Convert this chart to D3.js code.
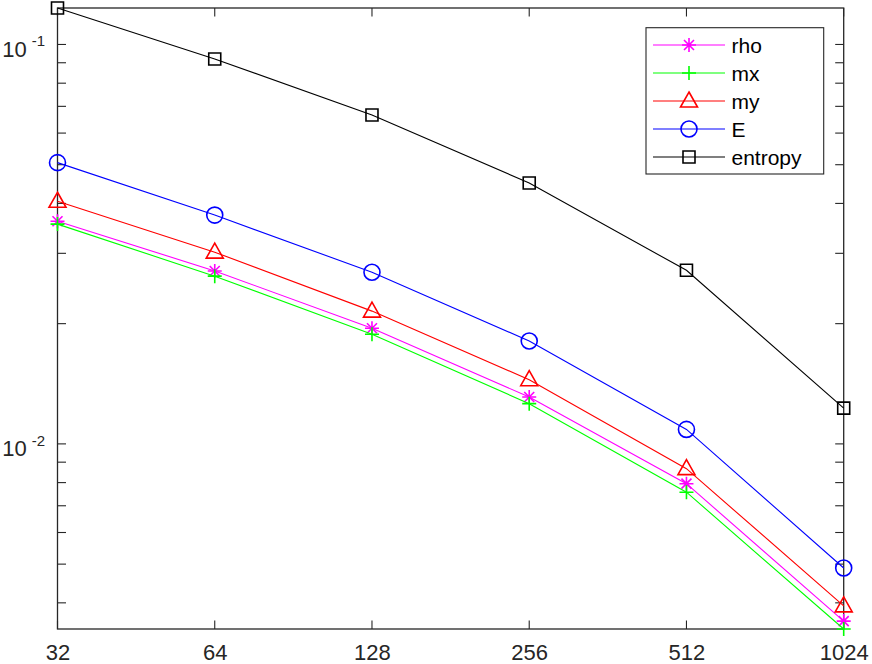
<!DOCTYPE html>
<html>
<head>
<meta charset="utf-8">
<script src="https://cdn.jsdelivr.net/npm/d3@7"></script>
<style>
  body { margin: 0; background: #fff; }
  svg { display: block; font-family: "Liberation Sans", Arial, sans-serif; }
</style>
</head>
<body>
<svg id="chart" width="872" height="664"></svg>
<script>
// grid sizes on the x axis
var gridSizes = [32, 64, 128, 256, 512, 1024];

// error per variable
var rho     = [0.0361, 0.0271, 0.01948, 0.01310, 0.00795, 0.00360];
var mx      = [0.0355, 0.0263, 0.01881, 0.01261, 0.00757, 0.00344];
var my      = [0.0405, 0.0302, 0.0215,  0.01448, 0.00867, 0.00393];
var E       = [0.0506, 0.0374, 0.0269,  0.01810, 0.01087, 0.00489];
var entropy = [0.1234, 0.0920, 0.0666,  0.0450,  0.0272,  0.01229];

var seriesNames = ["rho", "mx", "my", "E", "entropy"];
var seriesData  = [rho, mx, my, E, entropy];
var seriesColor = ["#ff00ff", "#00ff00", "#ff0000", "#0000ff", "#000000"];
var seriesMark  = ["asterisk", "plus", "triangle", "circle", "square"];

var yMajor = [0.01, 0.1];
var yMinor = [0.004, 0.005, 0.006, 0.007, 0.008, 0.009,
              0.02, 0.03, 0.04, 0.05, 0.06, 0.07, 0.08, 0.09];

var margin = {left: 57.5, right: 28.3, top: 8, bottom: 35};
var W = 872, H = 664;
var axisColor = "#262626";

var svg = d3.select("#chart");

var allVals = [].concat.apply([], seriesData);
var x = d3.scaleLog().base(2)
    .domain(d3.extent(gridSizes))
    .range([margin.left, W - margin.right]);
var y = d3.scaleLog()
    .domain(d3.extent(allVals))
    .range([H - margin.bottom, margin.top]);

var x0 = margin.left, x1 = W - margin.right;
var y0 = H - margin.bottom, y1 = margin.top;
var tickLen = 8.5;

// marker path, centred at 0,0
function markerPath(kind) {
  var p = d3.path();
  if (kind == "circle") {
    p.moveTo(8, 0); p.arc(0, 0, 8, 0, 2 * Math.PI);
  } else if (kind == "square") {
    p.rect(-6, -6, 12, 12);
  } else if (kind == "triangle") {
    p.moveTo(0, -9); p.lineTo(8.5, 6); p.lineTo(-8.5, 6); p.closePath();
  } else if (kind == "plus") {
    p.moveTo(-7, 0); p.lineTo(7, 0); p.moveTo(0, -7); p.lineTo(0, 7);
  } else if (kind == "asterisk") {
    var r = 7, d = 5;
    p.moveTo(-r, 0); p.lineTo(r, 0); p.moveTo(0, -r); p.lineTo(0, r);
    p.moveTo(-d, -d); p.lineTo(d, d); p.moveTo(-d, d); p.lineTo(d, -d);
  }
  return p.toString();
}

// x tick labels
var xAxis = d3.axisBottom(x).tickValues(gridSizes).tickSize(0).tickPadding(0)
    .tickFormat(d3.format("d"));

var gx = svg.append("g").attr("transform", "translate(0," + y0 + ")");
gx.call(xAxis);
gx.select(".domain").remove();
gx.selectAll("text").attr("dy", null).attr("y", 31)
  .style("font-size", "22px").attr("fill", axisColor);

// inward ticks on all four sides
var ticks = svg.append("g").attr("stroke", axisColor).attr("stroke-width", 1.1);
gridSizes.forEach(function(v) {
  ticks.append("line").attr("x1", x(v)).attr("x2", x(v)).attr("y1", y0).attr("y2", y0 - tickLen);
  ticks.append("line").attr("x1", x(v)).attr("x2", x(v)).attr("y1", y1).attr("y2", y1 + tickLen);
});
yMajor.concat(yMinor).forEach(function(v) {
  ticks.append("line").attr("x1", x0).attr("x2", x0 + tickLen).attr("y1", y(v)).attr("y2", y(v));
  ticks.append("line").attr("x1", x1).attr("x2", x1 - tickLen).attr("y1", y(v)).attr("y2", y(v));
});

// y labels as 10^-n
yMajor.forEach(function(v) {
  var t = svg.append("text")
    .attr("x", 45).attr("y", y(v) + 12.5)
    .attr("text-anchor", "end").attr("fill", axisColor);
  t.append("tspan").style("font-size", "22px").text("10");
  t.append("tspan").attr("dx", 5).attr("dy", -10.5).style("font-size", "15px")
    .text("-" + Math.round(-Math.log10(v)));
});

// box
svg.append("rect")
  .attr("x", x0).attr("y", y1).attr("width", x1 - x0).attr("height", y0 - y1)
  .attr("fill", "none").attr("stroke", axisColor).attr("stroke-width", 1.3);

// series lines and markers
var line = d3.line()
  .x(function(d, i) { return x(gridSizes[i]); })
  .y(function(d) { return y(d); });

var plot = svg.append("g");
seriesData.forEach(function(vals, k) {
  plot.append("path").datum(vals)
    .attr("d", line).attr("fill", "none")
    .attr("stroke", seriesColor[k]).attr("stroke-width", 1.1);
  plot.selectAll(".m" + k).data(vals).enter().append("path")
    .attr("transform", function(d, i) { return "translate(" + x(gridSizes[i]) + "," + y(d) + ")"; })
    .attr("d", markerPath(seriesMark[k]))
    .attr("fill", "none").attr("stroke", seriesColor[k]).attr("stroke-width", 1.6);
});

// legend
var lg = svg.append("g");
lg.append("rect").attr("x", 646).attr("y", 27.7).attr("width", 177.7).attr("height", 146.3)
  .attr("fill", "#fff").attr("stroke", axisColor).attr("stroke-width", 1.1);
seriesNames.forEach(function(name, k) {
  var cy = 45 + k * 28;
  lg.append("line").attr("x1", 653).attr("x2", 725).attr("y1", cy).attr("y2", cy)
    .attr("stroke", seriesColor[k]).attr("stroke-width", 1.1);
  lg.append("path").attr("transform", "translate(689," + cy + ")")
    .attr("d", markerPath(seriesMark[k]))
    .attr("fill", "none").attr("stroke", seriesColor[k]).attr("stroke-width", 1.6);
  lg.append("text").attr("x", 731.5).attr("y", cy + 7.5)
    .style("font-size", "21px").attr("fill", "#000").text(name);
});
</script>
</body>
</html>
